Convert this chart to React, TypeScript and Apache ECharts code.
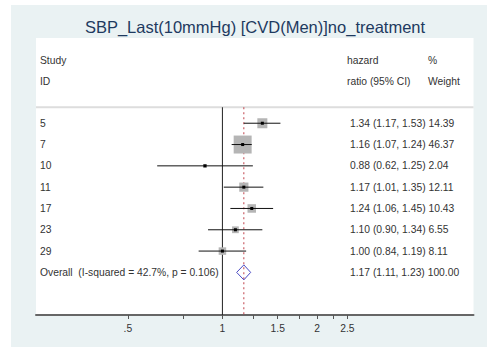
import React, { useEffect, useRef } from 'react';
import * as echarts from 'echarts';

const titleText = 'SBP_Last(10mmHg) [CVD(Men)]no_treatment';
const studyIds = ['5', '7', '10', '11', '17', '23', '29'];
const hazardRatio = [1.34, 1.16, 0.88, 1.17, 1.24, 1.1, 1.0];
const ciLower = [1.17, 1.07, 0.62, 1.01, 1.06, 0.9, 0.84];
const ciUpper = [1.53, 1.24, 1.25, 1.35, 1.45, 1.34, 1.19];
const weights = [14.39, 46.37, 2.04, 12.11, 10.43, 6.55, 8.11];
const overallLabel = 'Overall  (I-squared = 42.7%, p = 0.106)';
const overallHR = 1.17;
const overallLower = 1.11;
const overallUpper = 1.23;
const overallWeight = 100.0;
const tickValues = [0.5, 0.75, 1, 1.25, 1.5, 1.75, 2, 2.25, 2.5];
const tickLabelValues = [0.5, 1, 1.5, 2, 2.5];
const tickLabels = ['.5', '1', '1.5', '2', '2.5'];

const FONT = '"Liberation Sans", Arial, sans-serif';
const TEXT_COLOR = '#333333';

export default function App() {
  const ref = useRef<HTMLDivElement>(null);
  useEffect(() => {
    if (!ref.current) return;
    const chart = echarts.init(ref.current, undefined, { renderer: 'svg' });
    const ln = Math.log;
    const rowLabels = [...studyIds, overallLabel];
    const fmt = (h: number, l: number, u: number, w: number) =>
      `${h.toFixed(2)} (${l.toFixed(2)}, ${u.toFixed(2)}) ${w.toFixed(2)}`;
    const statsText = [
      ...studyIds.map((_, i) => fmt(hazardRatio[i], ciLower[i], ciUpper[i], weights[i])),
      fmt(overallHR, overallLower, overallUpper, overallWeight),
    ];
    const rows = studyIds.map((_, i) => [i, ln(hazardRatio[i]), ln(ciLower[i]), ln(ciUpper[i]), weights[i], 0]);
    rows.push([studyIds.length, ln(overallHR), ln(overallLower), ln(overallUpper), overallWeight, 1]);

    const xMin = -1.3663;
    const xMax = 1.8403;
    const sepY = -0.75;
    const yMax = 9;
    const labelX = 29;
    const statsX = 339;
    const boxScale = 2.64;

    const txt = (text: string, x: number, y: number) => ({
      type: 'text',
      x,
      y,
      style: { text, fill: TEXT_COLOR, font: `10.3px ${FONT}`, align: 'left', verticalAlign: 'middle' },
    });

    chart.setOption({
      animation: false,
      backgroundColor: '#eaf2f3',
      grid: { left: 25, top: 33, right: 13.5, bottom: 32, show: true, backgroundColor: '#ffffff', borderWidth: 0 },
      xAxis: {
        type: 'value',
        min: xMin,
        max: xMax,
        position: 'bottom',
        axisLine: { show: true, onZero: false, lineStyle: { color: '#666666', width: 2 } },
        axisTick: {
          show: true,
          customValues: tickValues.map(ln),
          length: 4,
          lineStyle: { color: '#555555', width: 1 },
        },
        axisLabel: {
          show: true,
          customValues: tickLabelValues.map(ln),
          formatter: (v: number) => {
            let best = 0;
            tickLabelValues.forEach((t, i) => {
              if (Math.abs(ln(t) - v) < Math.abs(ln(tickLabelValues[best]) - v)) best = i;
            });
            return tickLabels[best];
          },
          fontSize: 10.3,
          fontFamily: FONT,
          color: TEXT_COLOR,
          margin: 8,
        },
        splitLine: { show: false },
      },
      yAxis: { type: 'value', min: -4, max: yMax, inverse: true, show: false },
      graphic: [
        {
          type: 'text',
          x: 244,
          y: 22,
          style: { text: titleText, fill: '#1e3a5f', font: `16.5px ${FONT}`, align: 'center', verticalAlign: 'middle' },
        },
        txt('Study', 29, 55),
        txt('ID', 29, 76),
        txt('hazard', 336, 55),
        txt('ratio (95% CI)', 336, 76),
        txt('%', 417, 55),
        txt('Weight', 417, 76),
      ],
      series: [
        {
          type: 'line',
          data: [[xMin, sepY], [xMax, sepY]],
          symbol: 'none',
          silent: true,
          z: 1,
          lineStyle: { color: '#dddddd', width: 2 },
        },
        {
          type: 'line',
          data: [[0, sepY], [0, yMax]],
          symbol: 'none',
          silent: true,
          z: 1,
          lineStyle: { color: '#222222', width: 1 },
        },
        {
          type: 'line',
          data: [[ln(overallHR), sepY], [ln(overallHR), yMax]],
          symbol: 'none',
          silent: true,
          z: 1,
          lineStyle: { color: '#c0404a', width: 1, type: [2, 3] },
        },
        {
          type: 'custom',
          z: 3,
          clip: false,
          data: rows,
          renderItem: (params: any, api: any) => {
            const idx = params.dataIndex;
            const row = api.value(0);
            const y = api.coord([0, row])[1];
            const xe = api.coord([api.value(1), row])[0];
            const xl = api.coord([api.value(2), row])[0];
            const xh = api.coord([api.value(3), row])[0];
            const w = api.value(4);
            const isOverall = api.value(5) === 1;
            const children: any[] = [txt(rowLabels[idx], labelX, y), txt(statsText[idx], statsX, y)];
            if (isOverall) {
              children.push({
                type: 'polygon',
                shape: { points: [[xl, y], [xe, y - 7.5], [xh, y], [xe, y + 7.5]] },
                style: { fill: 'none', stroke: '#4a4ac4', lineWidth: 1 },
              });
            } else {
              const s = boxScale * Math.sqrt(w);
              children.push({
                type: 'rect',
                shape: { x: xe - s / 2, y: y - s / 2, width: s, height: s },
                style: { fill: '#b5b5b5' },
              });
              children.push({
                type: 'line',
                shape: { x1: xl, y1: y, x2: xh, y2: y },
                style: { stroke: '#111111', lineWidth: 1 },
              });
              children.push({
                type: 'rect',
                shape: { x: xe - 1.5, y: y - 1.5, width: 3, height: 3 },
                style: { fill: '#000000' },
              });
            }
            return { type: 'group', children };
          },
        },
      ],
    });
    return () => chart.dispose();
  }, []);

  return (
    <div style={{ position: 'absolute', left: 0, top: 0, width: 487, height: 347, background: '#ffffff' }}>
      <div ref={ref} style={{ position: 'absolute', left: 11, top: 5, width: 476, height: 342 }} />
    </div>
  );
}
